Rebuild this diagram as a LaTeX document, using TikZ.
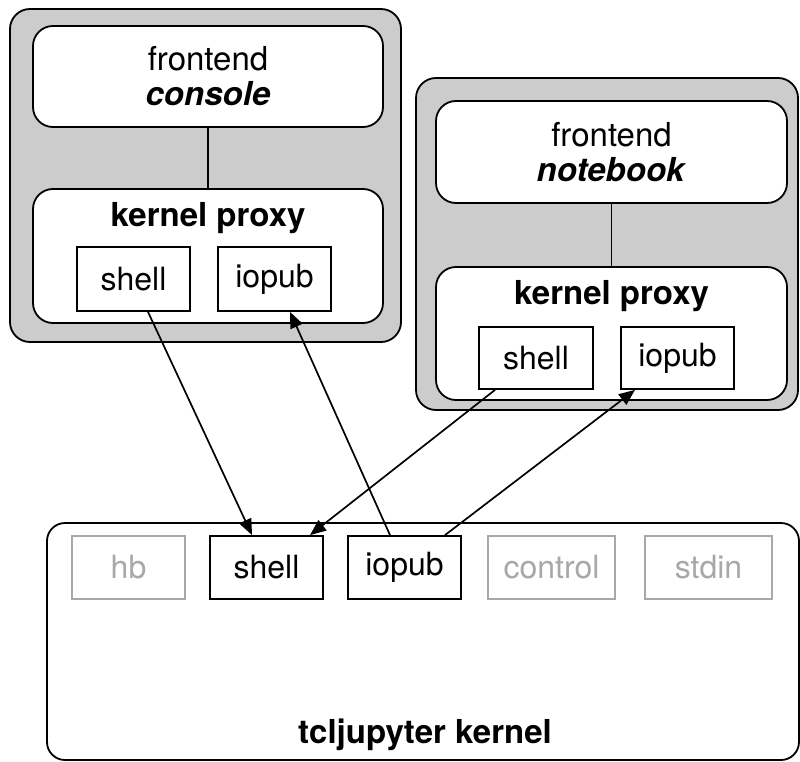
\documentclass[tikz,border=0pt]{standalone}
\usepackage{fontspec}
\setmainfont{TeX Gyre Heros}
\usetikzlibrary{arrows.meta,calc}
\definecolor{panelgray}{HTML}{CCCCCC}
\definecolor{mutedgray}{HTML}{A8A8A8}
\tikzset{
  panel/.style={draw=black, line width=1.8pt, fill=panelgray, rounded corners=20pt, inner sep=0pt},
  roundbox/.style={draw=black, line width=1.8pt, fill=white, rounded corners=20pt, inner sep=0pt, align=center},
  chan/.style={draw=black, line width=1.8pt, fill=white, inner sep=0pt, minimum height=63pt, font=\fontsize{32}{36}\selectfont},
  mutedchan/.style={chan, draw=mutedgray, text=mutedgray},
  lbl/.style={inner sep=0pt, font=\bfseries\fontsize{33}{36}\selectfont},
  link/.style={line width=1.6pt},
  msg/.style={line width=1.7pt, -{Triangle[length=16pt,width=13pt]}},
}
\begin{document}
\begin{tikzpicture}[x=1pt,y=-1pt]
\useasboundingbox (0,0) rectangle (800,762);
% console client
\node[panel, minimum width=391pt, minimum height=333pt] (cpanel) at (205.5,175.5) {};
\node[roundbox, minimum width=350pt, minimum height=101pt, font=\fontsize{33}{35}\selectfont] (cfront) at (208,76.5) {frontend\\\textbf{\textit{console}}};
\node[roundbox, minimum width=350pt, minimum height=134pt] (cproxy) at (208,256) {};
\node[lbl] (cproxylbl) at (208,218) {kernel proxy};
\node[chan, minimum width=113pt, minimum height=64pt] (cshell) at (133.5,279) {shell};
\node[chan, minimum width=113pt, minimum height=64pt] (ciopub) at (274.5,279) {iopub};
\draw[link] (cfront.south) -- (cproxy.north);
% notebook client
\node[panel, minimum width=382pt, minimum height=332pt] (npanel) at (607,244) {};
\node[roundbox, minimum width=351pt, minimum height=102pt, font=\fontsize{33}{35}\selectfont] (nfront) at (611.5,152) {frontend\\\textbf{\textit{notebook}}};
\node[roundbox, minimum width=351pt, minimum height=133pt] (nproxy) at (611.5,333.5) {};
\node[lbl] (nproxylbl) at (611.5,296) {kernel proxy};
\node[chan, minimum width=114pt, minimum height=62pt] (nshell) at (536,358) {shell};
\node[chan, minimum width=113pt, minimum height=62pt] (niopub) at (677.5,358) {iopub};
\draw[link] (nfront.south) -- (nproxy.north);
% kernel
\node[draw=black, line width=1.8pt, fill=white, rounded corners=18pt, inner sep=0pt, minimum width=752pt, minimum height=237pt] (kernel) at (423,641.5) {};
\node[lbl] (kernellbl) at (425,735) {tcljupyter kernel};
\node[mutedchan, minimum width=113pt] (khb) at (128.5,567.5) {hb};
\node[chan, minimum width=113pt] (kshell) at (266.5,567.5) {shell};
\node[chan, minimum width=113pt] (kiopub) at (404.5,567.5) {iopub};
\node[mutedchan, minimum width=127pt] (kcontrol) at (551.5,567.5) {control};
\node[mutedchan, minimum width=127pt] (kstdin) at (708.5,567.5) {stdin};
% messages
\draw[msg] ($(cshell.south)+(14.5,0)$) -- ($(kshell.north)+(-14.5,0)$);
\draw[msg] ($(kiopub.north)+(-14.5,0)$) -- ($(ciopub.south)+(15.5,0)$);
\draw[msg] ($(nshell.south)+(-41,0)$) -- ($(kshell.north)+(43.5,0)$);
\draw[msg] ($(kiopub.north)+(40.5,0)$) -- ($(niopub.south)+(-42.5,0)$);
\end{tikzpicture}
\end{document}
